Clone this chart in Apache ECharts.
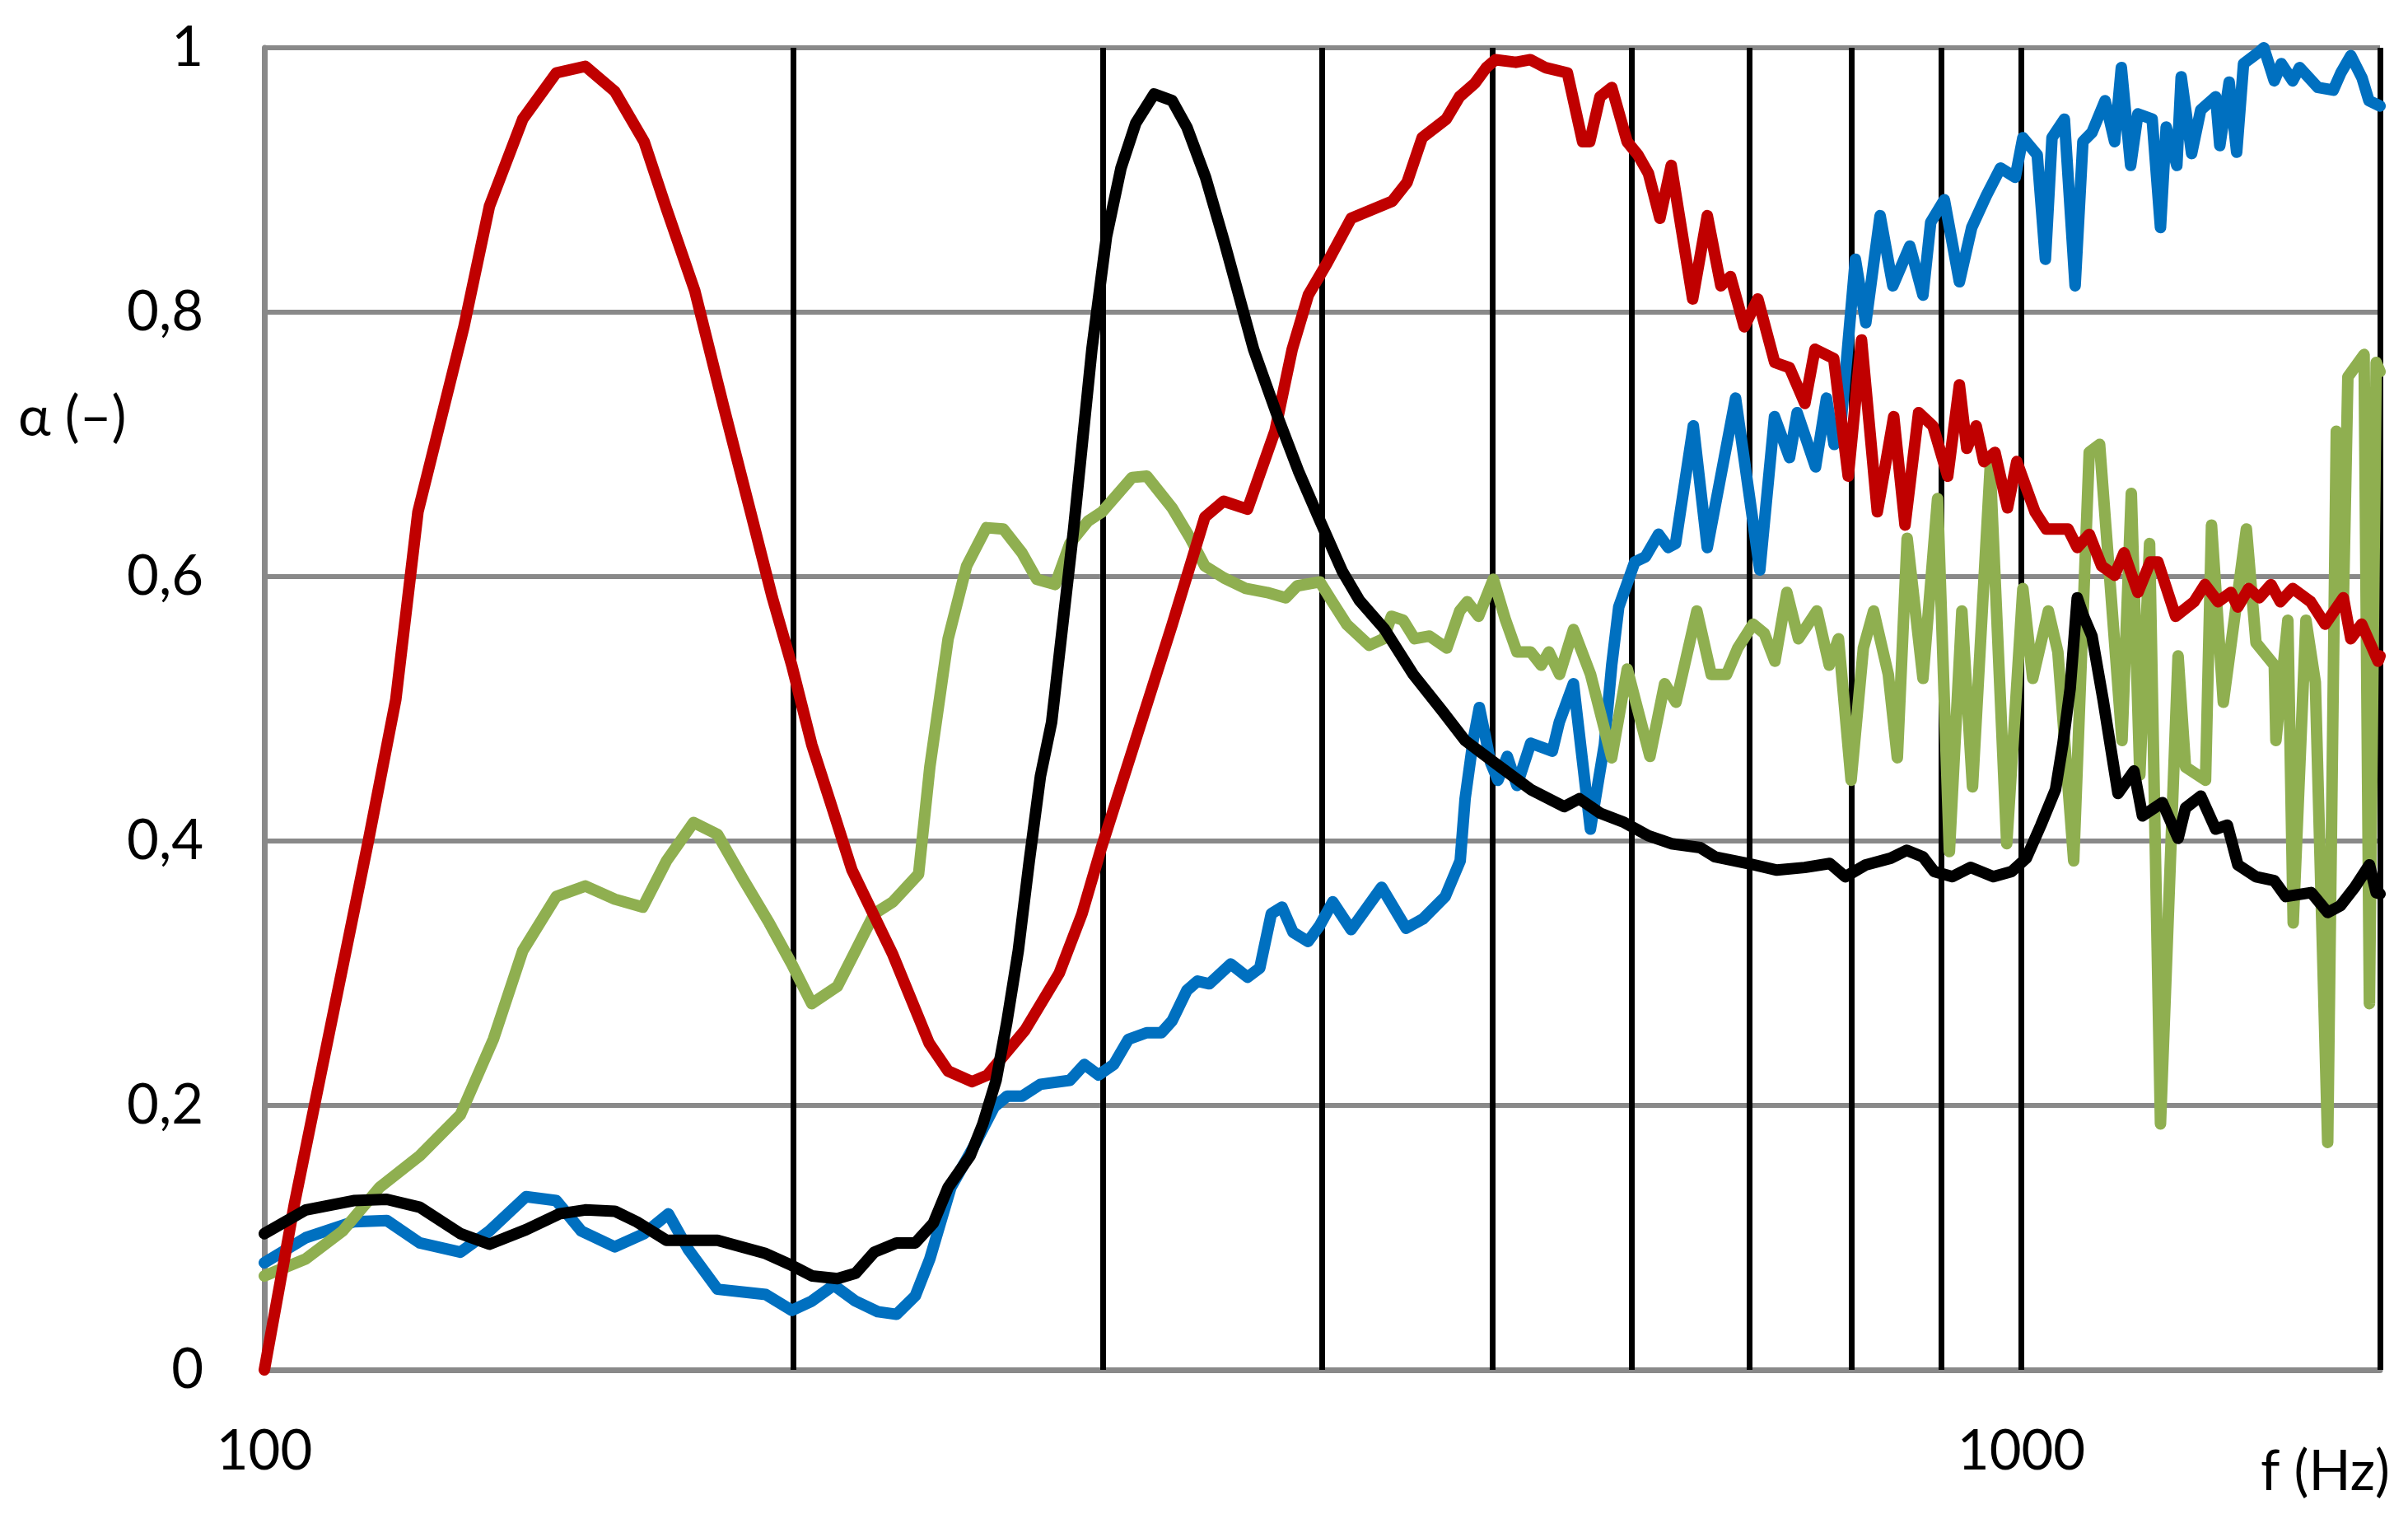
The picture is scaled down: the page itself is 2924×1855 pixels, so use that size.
<!DOCTYPE html>
<html>
<head>
<meta charset="utf-8">
<script src="https://cdn.jsdelivr.net/npm/echarts@6/dist/echarts.min.js"></script>
<style>
  html, body { margin: 0; padding: 0; background: #fff; }
  #chart { width: 2924px; height: 1855px; }
</style>
</head>
<body>
<div id="chart"></div>
<script>
// frequency (Hz) / absorption coefficient pairs
const redCurve = [
  [100, 0], [104, 0.125], [114.6, 0.40], [118.8, 0.507], [122.3, 0.649], [129.9, 0.789],
  [134.3, 0.880], [140.3, 0.946], [146.6, 0.981], [152.3, 0.986], [158.3, 0.967],
  [164.5, 0.929], [169.4, 0.878], [175.8, 0.816], [182.6, 0.728], [189.1, 0.649],
  [194.6, 0.584], [199.6, 0.533], [204.9, 0.473], [210, 0.429], [216, 0.378],
  [227.9, 0.314], [239, 0.247], [245, 0.226], [252.8, 0.218], [258, 0.223],
  [271, 0.257], [283.4, 0.300], [292, 0.345], [299.5, 0.395], [313, 0.475],
  [328.5, 0.563], [343, 0.645], [351.5, 0.657], [362.7, 0.651], [376, 0.710],
  [384.6, 0.772], [392.8, 0.813], [402.5, 0.837], [415.5, 0.871], [438.5, 0.884],
  [447, 0.898], [456, 0.932], [470.6, 0.946], [478.9, 0.963], [488.5, 0.973],
  [496, 0.985], [502, 0.991], [515.6, 0.989], [525.5, 0.991], [536, 0.985],
  [551.6, 0.981], [562.7, 0.929], [568, 0.929], [575.7, 0.963], [584.6, 0.970],
  [596.5, 0.929], [605, 0.919], [613.4, 0.905], [622.7, 0.871], [632, 0.911],
  [650, 0.810], [662.6, 0.873], [674.5, 0.820], [683, 0.827], [695.5, 0.789],
  [708, 0.810], [723.8, 0.762], [738, 0.758], [753, 0.731], [763, 0.772],
  [782, 0.765], [797, 0.676], [811, 0.779], [828, 0.649], [846, 0.721],
  [858.6, 0.639], [874, 0.724], [890.5, 0.714], [908, 0.676], [922, 0.745],
  [931, 0.697], [942.5, 0.714], [952, 0.687], [966, 0.694], [982, 0.652],
  [994, 0.687], [1018, 0.649], [1033, 0.636], [1063, 0.636], [1076, 0.622],
  [1093, 0.632], [1111, 0.608], [1130, 0.601], [1144, 0.618], [1165, 0.588],
  [1184, 0.611], [1196, 0.611], [1224, 0.570], [1254, 0.581], [1272, 0.594],
  [1294, 0.581], [1316, 0.588], [1328, 0.577], [1347, 0.591], [1366, 0.584],
  [1387, 0.594], [1404, 0.581], [1427, 0.591], [1461, 0.581], [1489, 0.564],
  [1525, 0.584], [1540, 0.553], [1562, 0.564], [1596, 0.536], [1600, 0.54]
];

const blackCurve = [
  [100, 0.103], [105.6, 0.121], [112.4, 0.128], [117.4, 0.129], [122.6, 0.123],
  [129.3, 0.103], [134.3, 0.095], [140.9, 0.106], [147.2, 0.118], [152.3, 0.121],
  [158.3, 0.120], [162.9, 0.112], [169.4, 0.098], [181.1, 0.098], [192.9, 0.088],
  [199.6, 0.079], [205, 0.071], [211.9, 0.069], [217, 0.073], [222.4, 0.089],
  [229, 0.096], [234.7, 0.096], [240.3, 0.111], [245, 0.138], [252.2, 0.162],
  [256.4, 0.186], [260.9, 0.219], [264.6, 0.263], [268.6, 0.317], [272.5, 0.385],
  [276.5, 0.449], [280.6, 0.49], [288.8, 0.636], [295.8, 0.772], [301.5, 0.857],
  [307.3, 0.909], [313.3, 0.943], [320.9, 0.965], [328.6, 0.960], [335, 0.940],
  [343.3, 0.902], [351.7, 0.854], [365.6, 0.772], [376.6, 0.724], [387.7, 0.680],
  [398.9, 0.642], [410.7, 0.604], [420, 0.582], [434.2, 0.560], [450.7, 0.526],
  [468.4, 0.498], [482.4, 0.476], [501.7, 0.459], [525.7, 0.439], [549.3, 0.426],
  [560.3, 0.432], [575.9, 0.421], [594.4, 0.414], [613.4, 0.404], [632.1, 0.398],
  [656.4, 0.395], [669.4, 0.388], [699, 0.383], [725.9, 0.378], [752.8, 0.380],
  [778, 0.383], [794, 0.373], [815.6, 0.382], [842.6, 0.387], [860.5, 0.393],
  [879, 0.388], [892, 0.377], [913.5, 0.373], [935.6, 0.380], [963.9, 0.373],
  [987.5, 0.377], [1006.5, 0.387], [1025.9, 0.412], [1045.8, 0.439], [1055.8, 0.473],
  [1066, 0.515], [1076, 0.584], [1085, 0.57], [1097, 0.555], [1113, 0.507],
  [1135, 0.436], [1159, 0.453], [1172, 0.419], [1203, 0.429], [1228, 0.402],
  [1240, 0.425], [1265, 0.434], [1290, 0.409], [1310, 0.412], [1328, 0.382],
  [1360, 0.373], [1393, 0.370], [1414, 0.358], [1462, 0.361], [1494, 0.346],
  [1519, 0.351], [1548, 0.365], [1578, 0.382], [1592, 0.361], [1600, 0.36]
];

const blueCurve = [
  [100, 0.081], [105.6, 0.100], [112.4, 0.112], [117.4, 0.113], [122.6, 0.096],
  [129.3, 0.089], [134.3, 0.105], [140.9, 0.131], [146.6, 0.128], [151.5, 0.105],
  [158.3, 0.093], [164.5, 0.103], [169.8, 0.118], [174.3, 0.091], [181.1, 0.061],
  [192.9, 0.057], [199.6, 0.045], [204.9, 0.052], [210.9, 0.064], [217, 0.052],
  [223.4, 0.044], [229, 0.042], [234.7, 0.056], [239.2, 0.084], [245.9, 0.138],
  [253.4, 0.169], [260.3, 0.199], [264.7, 0.207], [269.9, 0.207], [276.5, 0.216],
  [287.4, 0.219], [292.9, 0.231], [298.4, 0.223], [304.4, 0.231], [310.3, 0.250],
  [317.8, 0.255], [324, 0.255], [328.6, 0.264], [335, 0.287], [339.7, 0.294],
  [345, 0.292], [354.8, 0.307], [362.7, 0.297], [368.6, 0.304], [374.2, 0.345],
  [379.5, 0.350], [385, 0.331], [392.7, 0.324], [398.7, 0.336], [405.6, 0.354],
  [415.5, 0.333], [432.4, 0.365], [446.5, 0.334], [456.4, 0.341], [470, 0.358],
  [479.3, 0.385], [482.4, 0.432], [487.5, 0.476], [491.5, 0.501], [498.9, 0.459],
  [503.6, 0.446], [509.8, 0.464], [516.3, 0.442], [525.7, 0.474], [540.8, 0.468],
  [545.8, 0.49], [556, 0.519], [568.5, 0.409], [579, 0.473], [584.6, 0.533],
  [590, 0.577], [602.5, 0.611], [611, 0.615], [621.6, 0.632], [629.5, 0.622],
  [635.6, 0.625], [650.6, 0.714], [662.6, 0.622], [687.6, 0.735], [709.8, 0.605],
  [723.6, 0.721], [738, 0.690], [745.4, 0.724], [763.6, 0.683], [774.6, 0.735],
  [782.4, 0.700], [790, 0.72], [804.5, 0.840], [815.6, 0.792], [831, 0.873],
  [845, 0.820], [864, 0.850], [879, 0.813], [888, 0.868], [904, 0.885],
  [922, 0.823], [937, 0.864], [955, 0.888], [973, 0.909], [992, 0.902],
  [1002, 0.932], [1021, 0.919], [1032, 0.840], [1041, 0.932], [1058, 0.946],
  [1073, 0.820], [1084, 0.929], [1097, 0.936], [1116, 0.960], [1130, 0.929],
  [1140, 0.985], [1154, 0.911], [1165, 0.950], [1187, 0.946], [1200, 0.864],
  [1209, 0.940], [1226, 0.911], [1233, 0.978], [1250, 0.920], [1265, 0.953],
  [1290, 0.963], [1297, 0.926], [1313, 0.974], [1326, 0.921], [1338, 0.988],
  [1366, 0.997], [1374, 1.0], [1393, 0.975], [1406, 0.988], [1427, 0.975],
  [1440, 0.985], [1475, 0.970], [1505, 0.968], [1520, 0.981], [1540, 0.994],
  [1563, 0.977], [1577, 0.960], [1600, 0.956]
];

const greenCurve = [
  [100, 0.071], [105.6, 0.084], [110.8, 0.105], [116.3, 0.138], [122.6, 0.162],
  [129.3, 0.193], [135, 0.250], [140.3, 0.317], [146.6, 0.358], [152.3, 0.366],
  [158.3, 0.356], [164.2, 0.350], [169.4, 0.385], [175.5, 0.414], [181.1, 0.405],
  [187.3, 0.371], [193.8, 0.338], [199.6, 0.307], [204.9, 0.277], [211.9, 0.290],
  [217, 0.317], [222.4, 0.345], [227.9, 0.354], [235.7, 0.375], [239.2, 0.456],
  [245, 0.553], [251, 0.608], [257.6, 0.637], [263.4, 0.636], [269.9, 0.618],
  [275.2, 0.598], [281.9, 0.594], [287.4, 0.625], [294.3, 0.642], [299.8, 0.649],
  [311.8, 0.675], [317.9, 0.676], [328.6, 0.652], [336.5, 0.629], [343, 0.608],
  [351.7, 0.599], [361.9, 0.591], [372.2, 0.588], [381.4, 0.584], [387.2, 0.593],
  [398.8, 0.596], [405.3, 0.581], [413, 0.564], [425.4, 0.548], [433.6, 0.553],
  [438, 0.570], [444.8, 0.567], [451.5, 0.553], [460.4, 0.555], [471, 0.546],
  [479, 0.574], [483.8, 0.581], [491, 0.570], [500.6, 0.598], [508.7, 0.567],
  [516.3, 0.543], [525.7, 0.543], [533, 0.533], [538.4, 0.543], [546, 0.526],
  [556, 0.560], [568.6, 0.526], [584.6, 0.463], [596.6, 0.530], [614.6, 0.464],
  [626.6, 0.519], [636, 0.505], [653.6, 0.574], [666, 0.526], [679.6, 0.526],
  [689.6, 0.546], [703.5, 0.564], [714, 0.557], [724, 0.536], [735.4, 0.588],
  [746.7, 0.553], [765, 0.574], [777.4, 0.533], [786.9, 0.553], [800, 0.446],
  [813, 0.546], [824, 0.574], [840, 0.526], [850, 0.463], [861, 0.629],
  [879, 0.523], [896, 0.659], [910, 0.392], [925, 0.574], [938, 0.441],
  [960, 0.683], [981, 0.398], [1002, 0.591], [1015, 0.523], [1036, 0.574],
  [1049, 0.543], [1071, 0.385], [1093, 0.694], [1108, 0.700], [1141, 0.476],
  [1155, 0.663], [1168, 0.45], [1183, 0.625], [1200, 0.186], [1228, 0.540],
  [1240, 0.456], [1273, 0.446], [1283, 0.639], [1303, 0.505], [1343, 0.636],
  [1360, 0.550], [1393, 0.533], [1396, 0.476], [1418, 0.567], [1428, 0.338],
  [1452, 0.567], [1470, 0.52], [1494, 0.172], [1511, 0.710], [1525, 0.58],
  [1534, 0.751], [1567, 0.768], [1578, 0.277], [1592, 0.762], [1600, 0.755]
];

// black vertical guide lines
const guideFreqs = [200, 300, 400, 500, 600, 700, 800, 900, 1000, 1600];
const xLabelValues = [100, 1000];
const yMin = 0, yMax = 1, yStep = 0.2;

const labelFont = 'Lato';
const chart = echarts.init(document.getElementById('chart'), null, { renderer: 'canvas' });

function curve(data, color) {
  return {
    type: 'line',
    data: data,
    showSymbol: false,
    symbol: 'none',
    silent: true,
    z: 2,
    lineStyle: { color: color, width: 14, cap: 'round', join: 'round' }
  };
}

chart.setOption({
  animation: false,
  backgroundColor: '#ffffff',
  grid: {
    left: 321, right: 34, top: 58, bottom: 192,
    containLabel: false,
    outerBoundsMode: 'none'
  },
  xAxis: {
    type: 'log',
    logBase: 10,
    min: 100,
    max: 1600,
    axisLine: { show: true, lineStyle: { color: '#898989', width: 7 } },
    axisTick: { show: false },
    splitLine: { show: false },
    minorTick: { show: false },
    axisLabel: {
      margin: 66,
      fontSize: 67,
      lineHeight: 66,
      fontFamily: labelFont,
      color: '#000',
      showMinLabel: true,
      showMaxLabel: false,
      formatter: v => xLabelValues.includes(Math.round(v)) ? String(Math.round(v)) : ''
    }
  },
  yAxis: {
    type: 'value',
    min: yMin,
    max: yMax,
    interval: yStep,
    axisLine: { show: true, lineStyle: { color: '#898989', width: 7 } },
    axisTick: { show: false },
    splitLine: { show: true, lineStyle: { color: '#898989', width: 6 } },
    axisLabel: {
      margin: 74,
      fontSize: 67,
      fontFamily: labelFont,
      color: '#000',
      formatter: v => (v === 0 || v === 1) ? String(v) : v.toFixed(1).replace('.', ',')
    }
  },
  graphic: [
    {
      type: 'text', x: 22, y: 507,
      style: { text: 'α (–)', fontSize: 67, fontFamily: labelFont, fill: '#000', align: 'left', verticalAlign: 'middle' }
    },
    {
      type: 'text', x: 2902, y: 1787,
      style: { text: 'f (Hz)', fontSize: 67, fontFamily: labelFont, fill: '#000', align: 'right', verticalAlign: 'middle' }
    }
  ],
  series: [
    {
      type: 'line',
      data: [],
      silent: true,
      z: 1,
      markLine: {
        silent: true,
        z: 1,
        symbol: ['none', 'none'],
        label: { show: false },
        emphasis: { disabled: true },
        lineStyle: { color: '#000', width: 7, type: 'solid' },
        data: guideFreqs.map(f => ({ xAxis: f }))
      }
    },
    curve(blueCurve, '#0070C0'),
    curve(greenCurve, '#8FAF50'),
    curve(redCurve, '#C00000'),
    curve(blackCurve, '#000000')
  ]
});
</script>
</body>
</html>
